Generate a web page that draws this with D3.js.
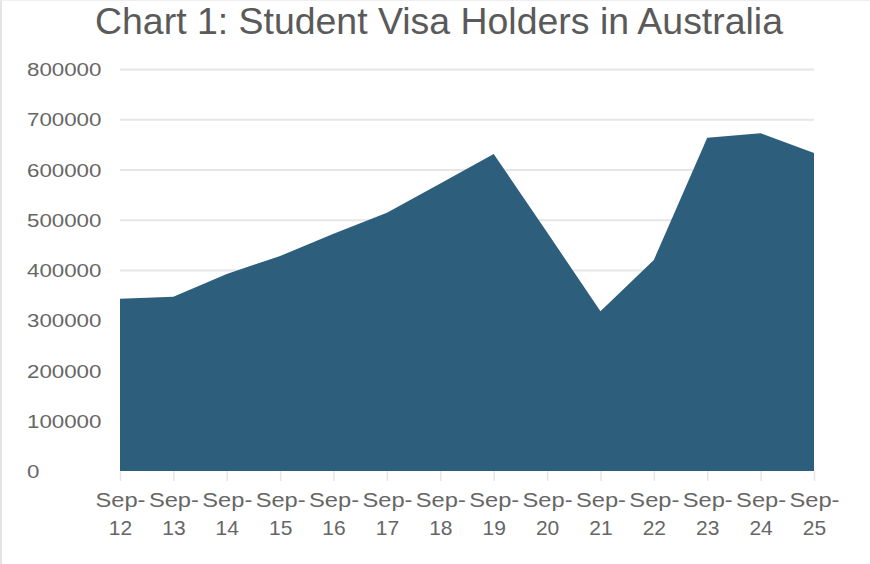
<!DOCTYPE html>
<head>
  <meta charset="utf-8">
  <style>
    body { margin: 0; background: #fff; font-family: "Liberation Sans", Arial, sans-serif; }
    svg { display: block; }
  </style>
</head>
<svg width="870" height="564"></svg>
<script src="https://d3js.org/d3.v7.min.js"></script>
<script>
  const months = ["Sep-12", "Sep-13", "Sep-14", "Sep-15", "Sep-16", "Sep-17", "Sep-18",
                  "Sep-19", "Sep-20", "Sep-21", "Sep-22", "Sep-23", "Sep-24", "Sep-25"];
  const holders = [343000, 347000, 392000, 428000, 472000, 514000, 572000,
                   631000, 475000, 318000, 420000, 663000, 672000, 633000];
  const yTicks = [0, 100000, 200000, 300000, 400000, 500000, 600000, 700000, 800000];

  const margin = { top: 69, bottom: 93, left: 120, right: 56 },
    width = 870 - margin.left - margin.right,
    height = 564 - margin.top - margin.bottom;

  var svg = d3.select("svg");

  // faint frame on the left / top edge
  svg.append("line").attr("x1", 1).attr("x2", 1).attr("y1", 0).attr("y2", 564)
    .style("stroke", "#e4e4e4").style("stroke-width", 2);
  svg.append("line").attr("x1", 0).attr("x2", 870).attr("y1", 0.5).attr("y2", 0.5)
    .style("stroke", "#eeeeee").style("stroke-width", 1);

  svg.append("text")
    .attr("x", 439)
    .attr("y", 34)
    .attr("text-anchor", "middle")
    .attr("textLength", 688)
    .attr("lengthAdjust", "spacingAndGlyphs")
    .style("font-size", "37px")
    .style("fill", "#5a5a5a")
    .text("Chart 1: Student Visa Holders in Australia");

  var g = svg.append("g").attr("transform", "translate(" + margin.left + "," + margin.top + ")");

  var x = d3.scalePoint().domain(months).range([0, width]);
  var y = d3.scaleLinear().domain([0, 800000]).range([height, 0]);

  // gridlines + y labels
  var yAxis = g.append("g")
    .call(d3.axisLeft(y).tickValues(yTicks).tickSize(-width).tickFormat(d3.format("d")));
  yAxis.select(".domain").remove();
  yAxis.selectAll(".tick line")
    .style("stroke", function(d) { return d === 0 ? "none" : "#e6e6e6"; })
    .style("stroke-width", 2);
  yAxis.selectAll(".tick text")
    .attr("x", 27 - margin.left)
    .attr("dy", "0.35em")
    .attr("text-anchor", "start")
    .attr("textLength", function(d) { return String(d).length * 12.4; })
    .attr("lengthAdjust", "spacingAndGlyphs")
    .style("font-size", "19px")
    .style("font-family", "'Liberation Sans', Arial, sans-serif")
    .style("fill", "#666");

  var area = d3.area()
    .x(function(d, i) { return x(months[i]); })
    .y0(y(0))
    .y1(function(d) { return y(d); });

  g.append("path")
    .datum(holders)
    .attr("d", area)
    .style("fill", "#2d5f7d");

  // x axis
  var xAxis = g.append("g")
    .attr("transform", "translate(0," + height + ")")
    .call(d3.axisBottom(x).tickSize(10).tickSizeOuter(0));
  xAxis.select(".domain").remove();
  xAxis.selectAll(".tick line").style("stroke", "#e6e6e6").style("stroke-width", 1.5);
  xAxis.selectAll(".tick text").remove();
  xAxis.selectAll(".tick").each(function(d) {
    var parts = d.split("-");
    var t = d3.select(this).append("text")
      .attr("text-anchor", "middle")
      .style("font-size", "21px")
      .style("font-family", "'Liberation Sans', Arial, sans-serif")
      .style("fill", "#666");
    t.append("tspan").attr("x", 0).attr("y", 36)
      .attr("textLength", 50).attr("lengthAdjust", "spacingAndGlyphs")
      .text(parts[0] + "-");
    t.append("tspan").attr("x", 0).attr("y", 64)
      .text(parts[1]);
  });
</script>
